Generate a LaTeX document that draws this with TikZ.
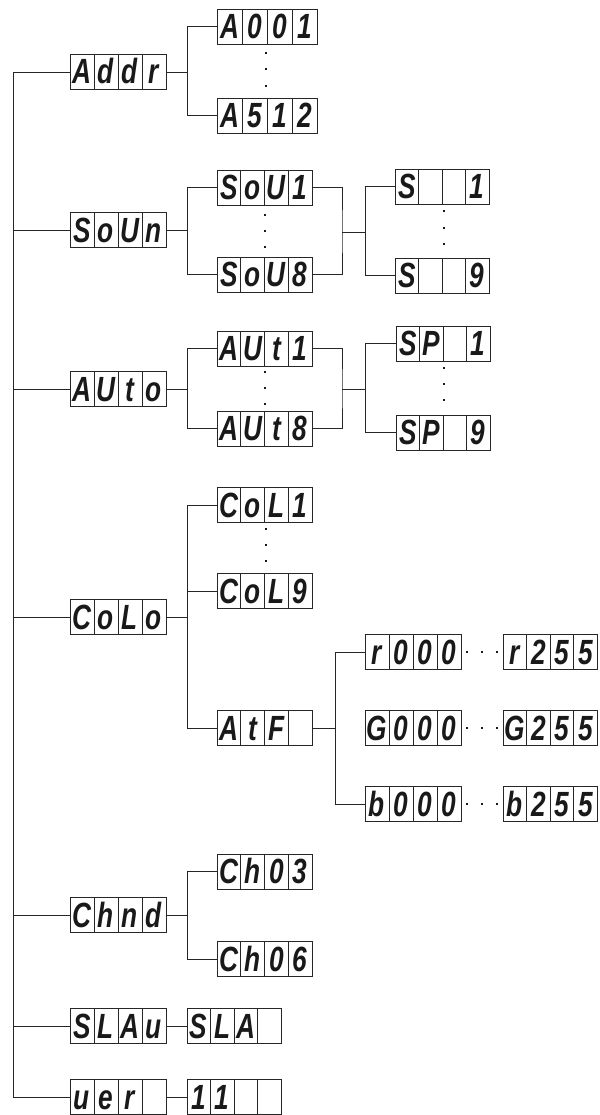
\documentclass[tikz,border=0pt]{standalone}
\usepackage{fontspec}
\newfontfamily\segfont[FakeStretch=0.75]{Liberation Sans}
\tikzset{
  dbox/.style={draw=black!85, line width=0.9pt, minimum height=35pt, inner sep=0pt, outer sep=0pt},
  divline/.style={draw=black!85, line width=0.9pt},
  ch/.style={inner sep=0pt, anchor=base, font=\fontsize{35}{35}\segfont\bfseries\itshape\selectfont, text=black!90},
  wire/.style={draw=black!85, line width=0.9pt},
  dot/.style={fill=black!90}
}
\newcommand\disp[7][24]{%
  \node[dbox, minimum width=4*#1pt, anchor=west] (#2) at #3 {};
  \foreach \k in {1,2,3} {\draw[divline] ([xshift=\k*#1pt]#2.north west) -- ([xshift=\k*#1pt]#2.south west);}
  \node[ch] (#2-1) at ([xshift=0.5*#1pt, yshift=-12pt]#2.west) {#4};
  \node[ch] (#2-2) at ([xshift=1.5*#1pt, yshift=-12pt]#2.west) {#5};
  \node[ch] (#2-3) at ([xshift=2.5*#1pt, yshift=-12pt]#2.west) {#6};
  \node[ch] (#2-4) at ([xshift=3.5*#1pt, yshift=-12pt]#2.west) {#7};
}
\newcommand\sq[1]{\fill[dot] #1 ++(-1.3pt,-1.3pt) rectangle ++(2.6pt,2.6pt);}
\begin{document}
\begin{tikzpicture}[x=1pt, y=-1pt]
\useasboundingbox (0,0) rectangle (599,1115);
% level 1
\disp{Addr}{(70,72)}{A}{d}{d}{r}
\disp{SoUn}{(70,230)}{S}{o}{U}{n}
\disp{AUto}{(70,389)}{A}{U}{t}{o}
\disp{CoLo}{(70,617)}{C}{o}{L}{o}
\disp{Chnd}{(70,915)}{C}{h}{n}{d}
\disp{SLAu}{(70,1026)}{S}{L}{A}{u}
\disp{vEr}{(70,1097)}{u}{e}{r}{}
% level 2
\disp[25]{A001}{(217,26.5)}{A}{0}{0}{1}
\disp[25]{A512}{(217,115.5)}{A}{5}{1}{2}
\disp[23.75]{SoU1}{(217,187.5)}{S}{o}{U}{1}
\disp[23.75]{SoU8}{(217,274.5)}{S}{o}{U}{8}
\disp[23.75]{AUt1}{(217,348.5)}{A}{U}{t}{1}
\disp[23.75]{AUt8}{(217,428.5)}{A}{U}{t}{8}
\disp[23.75]{CoL1}{(217,505)}{C}{o}{L}{1}
\disp[23.75]{CoL9}{(217,591)}{C}{o}{L}{9}
\disp[23.75]{AtF}{(217,728)}{A}{t}{F}{}
\disp[23.75]{Ch03}{(217,871.5)}{C}{h}{0}{3}
\disp[23.75]{Ch06}{(217,959)}{C}{h}{0}{6}
\disp[23.5]{SLA}{(187,1026)}{S}{L}{A}{}
\disp[23.5]{Ver11}{(187,1097)}{1}{1}{}{}
% level 3
\disp[23.5]{S1}{(395,186.5)}{S}{}{}{1}
\disp[23.5]{S9}{(395,275.5)}{S}{}{}{9}
\disp[23.5]{SP1}{(396,343.5)}{S}{P}{}{1}
\disp[23.5]{SP9}{(396,432.5)}{S}{P}{}{9}
\disp{r000}{(365,652)}{r}{0}{0}{0}
\disp[23.6]{r255}{(503,652)}{r}{2}{5}{5}
\disp{G000}{(365,728)}{G}{0}{0}{0}
\disp[23.6]{G255}{(503,728)}{G}{2}{5}{5}
\disp{b000}{(365,804)}{b}{0}{0}{0}
\disp[23.6]{b255}{(503,804)}{b}{2}{5}{5}
% helper coordinates
\coordinate (tTop) at (13,72);
\coordinate (tBot) at (13,1097);
\coordinate (bx) at (187,0);
\coordinate (cx) at (365,0);
\coordinate (dx) at (335,0);
% trunk
\draw[wire] (tTop) -- (tBot);
\foreach \n in {Addr,SoUn,AUto,CoLo,Chnd,SLAu,vEr} {\draw[wire] (\n.west) -- (\n.west -| tTop);}
% Addr branch
\draw[wire] (A001.west) -- ++(-30,0) |- (A512.west);
\draw[wire] (Addr.east) -- (Addr.east -| bx);
% SoUn branch
\draw[wire] (SoU1.west) -- ++(-30,0) |- (SoU8.west);
\draw[wire] (SoUn.east) -- (SoUn.east -| bx);
\coordinate (jS) at (342,232);
\draw[wire] (SoU1.east) -| (jS) |- (SoU8.east);
\draw[wire] (jS) -- (jS -| cx);
\draw[wire] (S1.west) -- ++(-30,0) |- (S9.west);
% AUto branch
\draw[wire] (AUt1.west) -- ++(-30,0) |- (AUt8.west);
\draw[wire] (AUto.east) -- (AUto.east -| bx);
\coordinate (jA) at (342,389);
\draw[wire] (AUt1.east) -| (jA) |- (AUt8.east);
\draw[wire] (jA) -- (jA -| cx);
\draw[wire] (SP1.west) -- ++(-31,0) |- (SP9.west);
% CoLo branch
\draw[wire] (CoL1.west) -- ++(-30,0) |- (AtF.west);
\draw[wire] (CoL9.west) -- ++(-30,0);
\draw[wire] (CoLo.east) -- (CoLo.east -| bx);
\draw[wire] (r000.west) -- ++(-30,0) |- (b000.west);
\draw[wire] (AtF.east) -- (AtF.east -| dx);
% Chnd
\draw[wire] (Ch03.west) -- ++(-30,0) |- (Ch06.west);
\draw[wire] (Chnd.east) -- (Chnd.east -| bx);
% SLAu, vEr
\draw[wire] (SLAu.east) -- (SLA.west);
\draw[wire] (vEr.east) -- (Ver11.west);
% vertical dots
\foreach \yy in {53,69,86} {\sq{(266,\yy)}}
\foreach \yy in {215,231,247} {\sq{(265,\yy)}}
\foreach \yy in {211,228,244} {\sq{(444,\yy)}}
\foreach \yy in {372,388,404} {\sq{(265,\yy)}}
\foreach \yy in {368,384,400} {\sq{(444,\yy)}}
\foreach \yy in {529,545,561} {\sq{(266,\yy)}}
% horizontal dots
\foreach \yy in {652,728,804} {\foreach \xx in {467,482,497} {\sq{(\xx,\yy)}}}
\end{tikzpicture}
\end{document}
